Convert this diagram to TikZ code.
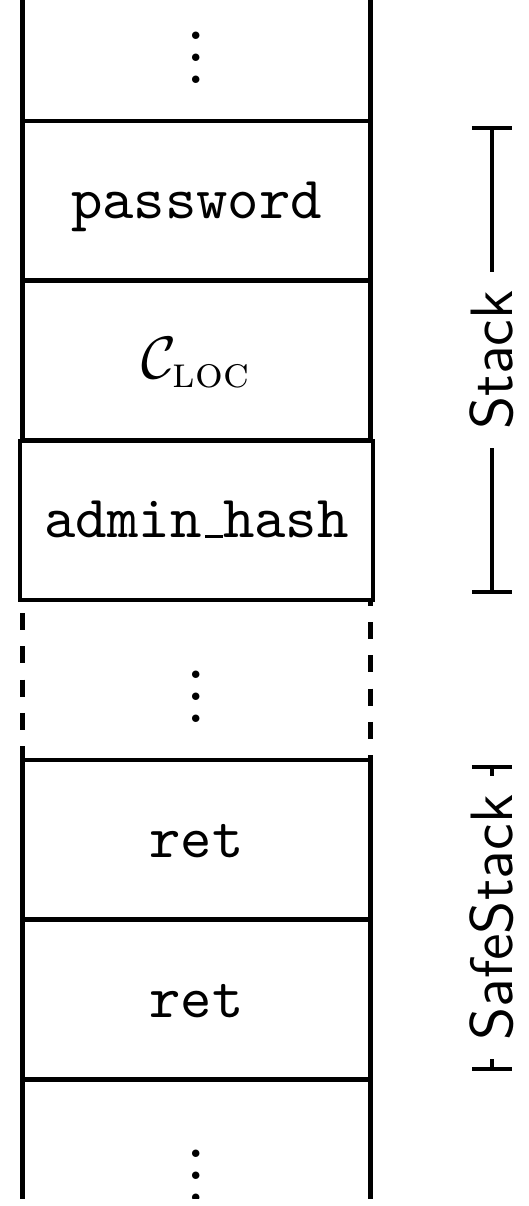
\documentclass[tikz,border=0pt]{standalone}
\usepackage{amsmath}
\usetikzlibrary{arrows.meta,calc}
\begin{document}
\begin{tikzpicture}[
  x=0.1831pt, y=-0.1831pt,
  line width=0.8pt,
  slot/.style={draw, minimum width=63.7pt, minimum height=29.16pt, inner sep=0pt,
    font=\fontsize{10.95}{13.6}\selectfont\ttfamily},
  word/.style={slot, text height=6.4pt, text depth=0pt},
  dashside/.style={dash pattern=on 3.1pt off 3pt},
  span/.style={{Bar[width=7.3pt]}-{Bar[width=7.3pt]}},
  spanlabel/.style={midway, fill=white, rotate=90,
    font=\fontsize{10.95}{13.6}\selectfont\sffamily},
]
\useasboundingbox (0,0) rectangle (529,1206);

% the memory cells, stacked top to bottom
\begin{scope}
  \clip (0,0) rectangle (529,1198);
  \node[slot] (topcell) at (196.6,41.1) {\vdots};
  \node[word] (pw) at (196.6,200.9) {password};
  \node[word] (cloc) at (196.6,360.6) {$\mathcal{C}_{\textrm{\textsc{loc}}}$};
  \node[word, minimum width=64.7pt] (ah) at (196.6,520.4)
    {admin\kern.06em\vbox{\hrule height 0.5pt width .3em}hash};
  \node[slot, draw=none, outer sep=0pt] (gap) at (196.6,680.1) {\vdots};
  \node[word] (ret1) at (196.6,839.9) {ret};
  \node[word] (ret2) at (196.6,999.6) {ret};
  \node[slot] (botcell) at (196.6,1159.4) {\vdots};
  % open sides of the region between the two stacks
  \draw[dashside, dash phase=3.8pt] (gap.north west) -- (gap.south west);
  \draw[dashside, dash phase=2.15pt] (gap.north east) -- (gap.south east);
\end{scope}

% extent markers for the two stacks
\coordinate (bx) at (491.7,0);
\coordinate (st-top) at ($(pw.north -| bx)+(0,6.5)$);
\coordinate (st-bot) at ($(ah.south -| bx)+(0,-8)$);
\coordinate (ss-top) at ($(ret1.north -| bx)+(0,6.5)$);
\coordinate (ss-bot) at ($(ret2.south -| bx)+(0,-10.5)$);
\draw[span] (st-top) -- node[spanlabel] {Stack} (st-bot);
\draw[span] (ss-top) -- node[spanlabel] {SafeStack} (ss-bot);
\end{tikzpicture}
\end{document}
